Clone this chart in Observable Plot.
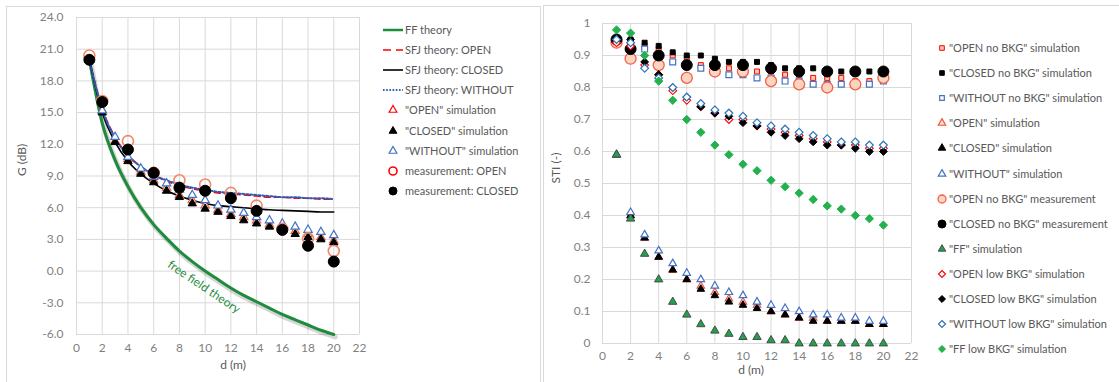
<!DOCTYPE html>
<html><head><meta charset="utf-8">
<script src="https://cdn.jsdelivr.net/npm/d3@7"></script>
<script src="https://cdn.jsdelivr.net/npm/@observablehq/plot@0.6"></script>
<style>
body{margin:0;background:#fff;}
#page{position:relative;width:1119px;height:382px;overflow:hidden;font-family:Lato,"Open Sans",sans-serif;}
.panel{position:absolute;border:1px solid #d9d9d9;box-sizing:border-box;background:#fff;}
.chart{position:absolute;top:0;}
.leg{position:absolute;font-size:11px;color:#595959;white-space:nowrap;height:16px;line-height:16px;}
.sw{position:absolute;overflow:visible;}
</style></head><body><div id="page">
<div class="panel" style="left:6px;top:6px;width:535px;height:400px"></div>
<div class="panel" style="left:543px;top:5px;width:600px;height:400px"></div>
</div>
<script>
// ---------- shared ----------
const dSim = [1,2,3,4,5,6,7,8,9,10,11,12,13,14,15,16,17,18,19,20];
const dMeas = [1,2,4,6,8,10,12,14,16,18,20];
const xTicks = [0,2,4,6,8,10,12,14,16,18,20,22];
const xTickLabels = ["0","2","4","6","8","10","12","14","16","18","20","22"];

// ---------- left chart: G (dB) ----------
const gTicks = [-6,-3,0,3,6,9,12,15,18,21,24];
const gTickLabels = ["-6.0","-3.0","0.0","3.0","6.0","9.0","12.0","15.0","18.0","21.0","24.0"];
const ffTheory   = [20.0,14.0,10.5,8.0,6.0,4.4,3.1,1.9,0.9,0.0,-0.8,-1.6,-2.3,-2.9,-3.5,-4.1,-4.6,-5.1,-5.6,-6.0];
const sfjOpen    = [20.0,15.4,12.7,11.0,9.9,9.1,8.5,8.1,7.8,7.6,7.4,7.3,7.2,7.1,7.0,7.0,6.9,6.9,6.8,6.8];
const sfjClosed  = [20.0,15.0,12.2,10.4,9.2,8.3,7.6,7.1,6.7,6.4,6.2,6.1,6.0,5.9,5.8,5.75,5.7,5.65,5.6,5.6];
const sfjWithout = [20.0,15.3,12.6,10.9,9.9,9.1,8.6,8.2,7.9,7.7,7.5,7.4,7.3,7.2,7.1,7.0,7.0,6.9,6.9,6.8];
const simOpenL    = [20.0,15.2,12.3,10.6,9.4,8.6,7.9,7.2,6.7,6.2,5.8,5.4,5.1,4.8,4.4,4.1,3.8,3.5,3.2,2.9];
const simClosedL  = [20.0,15.0,12.2,10.4,9.2,8.4,7.6,7.0,6.4,5.9,5.6,5.2,4.8,4.5,4.2,3.9,3.5,3.2,3.0,2.7];
const simWithoutL = [20.0,15.2,12.7,10.8,9.7,8.9,8.3,7.7,7.2,6.7,6.2,5.8,5.5,5.1,4.8,4.5,4.2,3.9,3.7,3.4];
const measOpenL   = [20.4,16.1,12.3,9.3,8.6,8.2,7.4,6.2,4.0,3.1,1.9];
const measClosedL = [20.0,16.0,11.5,9.3,7.9,7.6,6.9,5.7,3.9,2.4,0.9];
const ffAnnot = [{d:9.9, g:-1.5, label:"free field theory"}];

// ---------- right chart: STI (-) ----------
const stiTicks = [0,0.1,0.2,0.3,0.4,0.5,0.6,0.7,0.8,0.9,1];
const stiTickLabels = ["0","0.1","0.2","0.3","0.4","0.5","0.6","0.7","0.8","0.9","1"];
const openNoBkgSim    = [0.94,0.94,0.93,0.92,0.90,0.89,0.87,0.87,0.86,0.86,0.85,0.85,0.84,0.84,0.83,0.83,0.83,0.82,0.82,0.83];
const closedNoBkgSim  = [0.95,0.95,0.94,0.93,0.91,0.90,0.90,0.89,0.88,0.88,0.88,0.87,0.86,0.86,0.86,0.85,0.85,0.85,0.85,0.85];
const withoutNoBkgSim = [0.95,0.93,0.92,0.90,0.88,0.87,0.86,0.85,0.84,0.84,0.83,0.83,0.82,0.82,0.81,0.81,0.81,0.81,0.81,0.82];
const openSimR    = [0.59,0.40,0.33,0.27,0.23,0.20,0.18,0.16,0.14,0.13,0.12,0.10,0.09,0.08,0.08,0.07,0.07,0.07,0.06,0.06];
const closedSimR  = [0.59,0.40,0.33,0.27,0.23,0.20,0.17,0.15,0.13,0.12,0.11,0.10,0.09,0.08,0.07,0.07,0.07,0.07,0.06,0.06];
const withoutSimR = [0.59,0.41,0.34,0.29,0.25,0.22,0.20,0.18,0.16,0.15,0.13,0.12,0.11,0.10,0.09,0.09,0.08,0.08,0.07,0.07];
const openMeasR   = [0.94,0.89,0.87,0.83,0.85,0.85,0.82,0.81,0.80,0.81,0.83];
const closedMeasR = [0.95,0.92,0.90,0.87,0.87,0.87,0.86,0.85,0.85,0.85,0.85];
const ffSimR      = [0.59,0.39,0.28,0.20,0.13,0.09,0.06,0.04,0.03,0.02,0.02,0.01,0.01,0,0,0,0,0,0,0];
const openLowR    = [0.94,0.93,0.87,0.84,0.79,0.76,0.74,0.72,0.70,0.70,0.68,0.67,0.66,0.65,0.64,0.63,0.62,0.62,0.61,0.61];
const closedLowR  = [0.95,0.95,0.88,0.84,0.80,0.77,0.74,0.72,0.71,0.69,0.68,0.66,0.65,0.64,0.63,0.62,0.62,0.61,0.60,0.60];
const withoutLowR = [0.95,0.94,0.86,0.83,0.80,0.77,0.75,0.73,0.72,0.71,0.69,0.68,0.67,0.66,0.65,0.64,0.63,0.63,0.62,0.62];
const ffLowR      = [0.98,0.97,0.90,0.82,0.76,0.70,0.66,0.62,0.59,0.56,0.54,0.51,0.49,0.47,0.45,0.43,0.42,0.40,0.39,0.37];

// ---------- helpers ----------
const diamond = {draw(ctx, size){const r=Math.sqrt(size/2);ctx.moveTo(0,-r);ctx.lineTo(r,0);ctx.lineTo(0,r);ctx.lineTo(-r,0);ctx.closePath();}};
const SYM = {circle:d3.symbolCircle, triangle:d3.symbolTriangle, square:d3.symbolSquare, diamond};
const rows = (ds, vs) => vs.map((v,i)=>({d:ds[i], v}));
const page = document.getElementById("page");

const leftLines = [
  {name:"FF theory", values:ffTheory, stroke:"#1E8C3C", sw:3},
  {name:"SFJ theory: OPEN", values:sfjOpen, stroke:"#FF0000", sw:1.6, dash:"6,4"},
  {name:"SFJ theory: CLOSED", values:sfjClosed, stroke:"#000000", sw:1.6},
  {name:"SFJ theory: WITHOUT", values:sfjWithout, stroke:"#2F5BB7", sw:2, dash:"2,2"}
];
const leftPts = [
  {name:"\"OPEN\" simulation", ds:dSim, values:simOpenL, symbol:"triangle", r:3.1, fill:"#fff", stroke:"#F0603F", sw:1.2, lr:2.9, lstroke:"#FF0000"},
  {name:"\"CLOSED\" simulation", ds:dSim, values:simClosedL, symbol:"triangle", r:3.1, fill:"#000", stroke:"#000", sw:1, lr:2.9},
  {name:"\"WITHOUT\" simulation", ds:dSim, values:simWithoutL, symbol:"triangle", r:3.1, fill:"#fff", stroke:"#4472C4", sw:1.2, lr:2.9},
  {name:"measurement: OPEN", ds:dMeas, values:measOpenL, symbol:"circle", r:5.5, fill:"none", stroke:"#F4876A", sw:1.6, lr:4, lstroke:"#FF0000"},
  {name:"measurement: CLOSED", ds:dMeas, values:measClosedL, symbol:"circle", r:5.5, fill:"#000", stroke:"#000", sw:1, lr:4}
];
const rightPts = [
  {name:"\"OPEN no BKG\" simulation", ds:dSim, values:openNoBkgSim, symbol:"square", r:2.8, fill:"#F8CBAD", stroke:"#FF0000", sw:1},
  {name:"\"CLOSED no BKG\" simulation", ds:dSim, values:closedNoBkgSim, symbol:"square", r:2.8, fill:"#000", stroke:"#000", sw:1},
  {name:"\"WITHOUT no BKG\" simulation", ds:dSim, values:withoutNoBkgSim, symbol:"square", r:3.3, fill:"#fff", stroke:"#4472C4", sw:1.2},
  {name:"\"OPEN\" simulation", ds:dSim, values:openSimR, symbol:"triangle", r:2.8, fill:"#FBDCCF", stroke:"#F0503A", sw:1.1},
  {name:"\"CLOSED\" simulation", ds:dSim, values:closedSimR, symbol:"triangle", r:2.8, fill:"#000", stroke:"#000", sw:1},
  {name:"\"WITHOUT\" simulation", ds:dSim, values:withoutSimR, symbol:"triangle", r:2.8, fill:"#fff", stroke:"#4472C4", sw:1.2},
  {name:"\"OPEN no BKG\" measurement", ds:dMeas, values:openMeasR, symbol:"circle", r:5.5, fill:"#FBD5BF", stroke:"#F0604A", sw:1.3},
  {name:"\"CLOSED no BKG\" measurement", ds:dMeas, values:closedMeasR, symbol:"circle", r:5.5, fill:"#000", stroke:"#000", sw:1},
  {name:"\"FF\" simulation", ds:dSim, values:ffSimR, symbol:"triangle", r:3.1, fill:"#1FA24A", stroke:"#4a4a4a", sw:1},
  {name:"\"OPEN low BKG\" simulation", ds:dSim, values:openLowR, symbol:"diamond", r:3.1, fill:"#fff", stroke:"#FF0000", sw:1.1},
  {name:"\"CLOSED low BKG\" simulation", ds:dSim, values:closedLowR, symbol:"diamond", r:3.1, fill:"#000", stroke:"#000", sw:1},
  {name:"\"WITHOUT low BKG\" simulation", ds:dSim, values:withoutLowR, symbol:"diamond", r:3.1, fill:"#fff", stroke:"#2E75B6", sw:1.2},
  {name:"\"FF low BKG\" simulation", ds:dSim, values:ffLowR, symbol:"diamond", r:3.3, fill:"#22B14C", stroke:"#22B14C", sw:1}
];

const dotMark = s => Plot.dot(rows(s.ds, s.values), {x:"d", y:"v", symbol:SYM[s.symbol], r:s.r, fill:s.fill, stroke:s.stroke, strokeWidth:s.sw});

// ---------- left plot ----------
const left = Plot.plot({
  width:370, height:382, marginLeft:76, marginRight:11, marginTop:17, marginBottom:48,
  style:{fontFamily:"Lato, 'Open Sans', sans-serif", fontSize:"12px", color:"#7f7f7f", background:"transparent", overflow:"visible"},
  x:{domain:[0,22], ticks:xTicks, tickFormat:d=>xTickLabels[xTicks.indexOf(d)], tickSize:0, tickPadding:9, label:null},
  y:{domain:[-6,24], ticks:gTicks, tickFormat:d=>gTickLabels[gTicks.indexOf(d)], tickSize:0, tickPadding:13, label:null},
  marks:[
    Plot.ruleX(xTicks, {stroke:"#d9d9d9"}),
    Plot.ruleY(gTicks, {stroke:"#d9d9d9"}),
    Plot.line(rows(dSim, ffTheory), {x:"d", y:"v", stroke:"#000", strokeOpacity:0.16, strokeWidth:5, dx:1.5, dy:2.5, curve:"monotone-x"}),
    ...leftLines.map(s => Plot.line(rows(dSim, s.values), {x:"d", y:"v", stroke:s.stroke, strokeWidth:s.sw, strokeDasharray:s.dash, curve:"monotone-x"})),
    ...leftPts.map(dotMark),
    Plot.text(ffAnnot, {x:"d", y:"g", text:"label", rotate:34, fill:"#1E8C3C", fontSize:12}),
    Plot.text(["G (dB)"], {text:d=>d, frameAnchor:"left", dx:-54, rotate:-90, fill:"#595959", fontSize:12}),
    Plot.text(["d (m)"], {text:d=>d, frameAnchor:"bottom", dx:15, dy:34, fill:"#595959", fontSize:12})
  ]
});
left.classList.add("chart"); left.style.left = "0px";
page.appendChild(left);

// ---------- right plot ----------
const right = Plot.plot({
  width:380, height:382, marginLeft:61, marginRight:10, marginTop:23, marginBottom:39,
  style:{fontFamily:"Lato, 'Open Sans', sans-serif", fontSize:"12px", color:"#7f7f7f", background:"transparent", overflow:"visible"},
  x:{domain:[0,22], ticks:xTicks, tickFormat:d=>xTickLabels[xTicks.indexOf(d)], tickSize:0, tickPadding:8, label:null},
  y:{domain:[0,1], ticks:stiTicks, tickFormat:d=>stiTickLabels[stiTicks.indexOf(d)], tickSize:0, tickPadding:12, label:null},
  marks:[
    Plot.ruleX(xTicks, {stroke:"#d9d9d9"}),
    Plot.ruleY(stiTicks, {stroke:"#d9d9d9"}),
    ...rightPts.map(dotMark),
    Plot.text(["STI (-)"], {text:d=>d, frameAnchor:"left", dx:-46, rotate:-90, fill:"#595959", fontSize:12}),
    Plot.text(["d (m)"], {text:d=>d, frameAnchor:"bottom", dx:-6, dy:30, fill:"#595959", fontSize:12})
  ]
});
right.classList.add("chart"); right.style.left = "541px";
page.appendChild(right);

// ---------- legends ----------
function swatch(item, cx, cy, isLine){
  const w = 30, h = 16;
  let inner = "";
  if (isLine) {
    inner = `<line x1="${w/2-10}" x2="${w/2+10}" y1="${h/2}" y2="${h/2}" stroke="${item.stroke}" stroke-width="${Math.min(item.sw,2.5)}" ${item.dash?`stroke-dasharray="${item.dash==="2,2"?"1.6,1.6":"8,5"}"`:""}/>`;
  } else {
    const rr = item.lr || (item.symbol==="circle" ? 4 : item.symbol==="square" ? 2.6 : 2.8);
    const p = d3.symbol(SYM[item.symbol], Math.PI*rr*rr)();
    inner = `<path transform="translate(${w/2},${h/2})" d="${p}" fill="${item.fill==="none"?"none":item.fill}" stroke="${item.lstroke||item.stroke}" stroke-width="${item.sw}"/>`;
  }
  const s = document.createElementNS("http://www.w3.org/2000/svg","svg");
  s.setAttribute("width", w); s.setAttribute("height", h);
  s.setAttribute("class","sw");
  s.style.left = (cx - w/2) + "px"; s.style.top = (cy - h/2) + "px";
  s.innerHTML = inner;
  page.appendChild(s);
}
function label(text, x, cy){
  const d = document.createElement("div");
  d.className = "leg"; d.textContent = text;
  d.style.left = x + "px"; d.style.top = (cy - 8) + "px";
  page.appendChild(d);
}
const leftLeg = [...leftLines.map(s=>({...s, line:true})), ...leftPts];
leftLeg.forEach((it, i) => {
  const cy = 30 + i*20.1;
  swatch(it, 393, cy, !!it.line);
  label(it.name, 405, cy);
});
rightPts.forEach((it, i) => {
  const cy = 48 + i*25.1;
  swatch(it, 942, cy, false);
  label(it.name, 949, cy);
});
</script></body></html>
